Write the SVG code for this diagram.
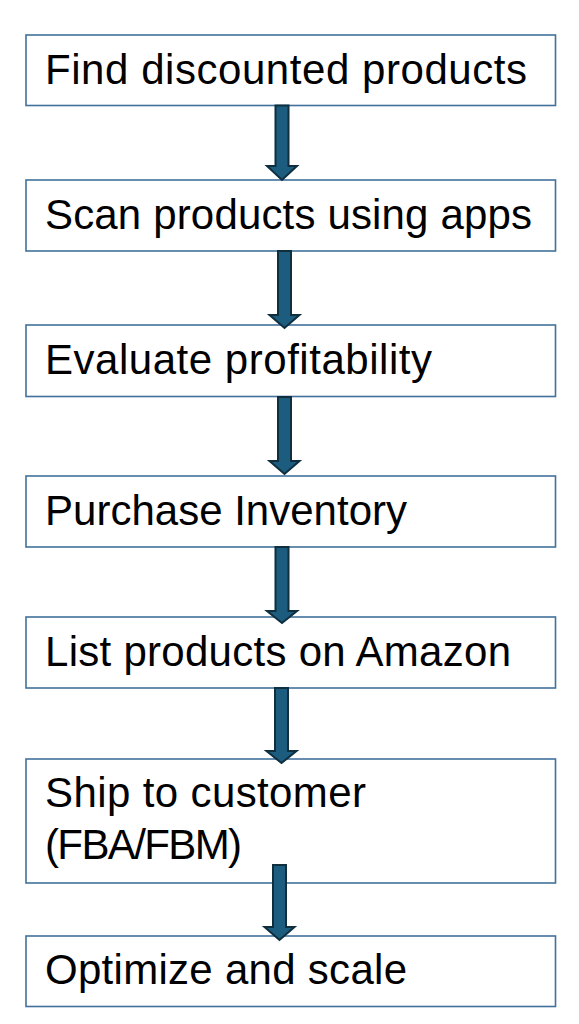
<svg xmlns="http://www.w3.org/2000/svg" width="579" height="1024" viewBox="0 0 579 1024">
<style>
.box{fill:#ffffff;stroke:#41719c;stroke-width:1.6}
.lbl{font-family:"Liberation Sans",Arial,sans-serif;font-size:42px;fill:#000000}
.arr{fill:#1c5d7f;stroke:#0f2e3e;stroke-width:2;stroke-linejoin:miter}
</style>
<rect width="579" height="1024" fill="#ffffff"/>
<g id="n1"><rect class="box" x="26" y="35" width="529.5" height="70.5"/><text class="lbl" x="45" y="84" textLength="482">Find discounted products</text></g>
<g id="n2"><rect class="box" x="26" y="180" width="529.5" height="71"/><text class="lbl" x="45" y="229" textLength="487">Scan products using apps</text></g>
<g id="n3"><rect class="box" x="26" y="325" width="529.5" height="71.5"/><text class="lbl" x="45" y="374" textLength="387">Evaluate profitability</text></g>
<g id="n4"><rect class="box" x="26" y="476" width="529.5" height="71"/><text class="lbl" x="45" y="525" textLength="362">Purchase Inventory</text></g>
<g id="n5"><rect class="box" x="26" y="617" width="529.5" height="71"/><text class="lbl" x="45" y="666" textLength="466">List products on Amazon</text></g>
<g id="n6"><rect class="box" x="26" y="759" width="529.5" height="124"/><text class="lbl" x="45" y="807" textLength="321">Ship to customer</text><text class="lbl" x="45" y="859" textLength="197">(FBA/FBM)</text></g>
<g id="n7"><rect class="box" x="26" y="936" width="529.5" height="70.5"/><text class="lbl" x="45" y="984" textLength="362">Optimize and scale</text></g>
<g id="connectors">
<polygon class="arr" points="275.5,105.5 288.5,105.5 288.5,166 297,166 282,180 267,166 275.5,166"/>
<polygon class="arr" points="278,251 291,251 291,315 299.5,315 284.5,328 269.5,315 278,315"/>
<polygon class="arr" points="278,397 291,397 291,461 299.5,461 284.5,474 269.5,461 278,461"/>
<polygon class="arr" points="275.5,547 288.5,547 288.5,611 297,611 282,623 267,611 275.5,611"/>
<polygon class="arr" points="275,688 288,688 288,751 296.5,751 281.5,763 266.5,751 275,751"/>
<polygon class="arr" points="273,865 286,865 286,927 294.5,927 279.5,940 264.5,927 273,927"/>
</g>
</svg>
